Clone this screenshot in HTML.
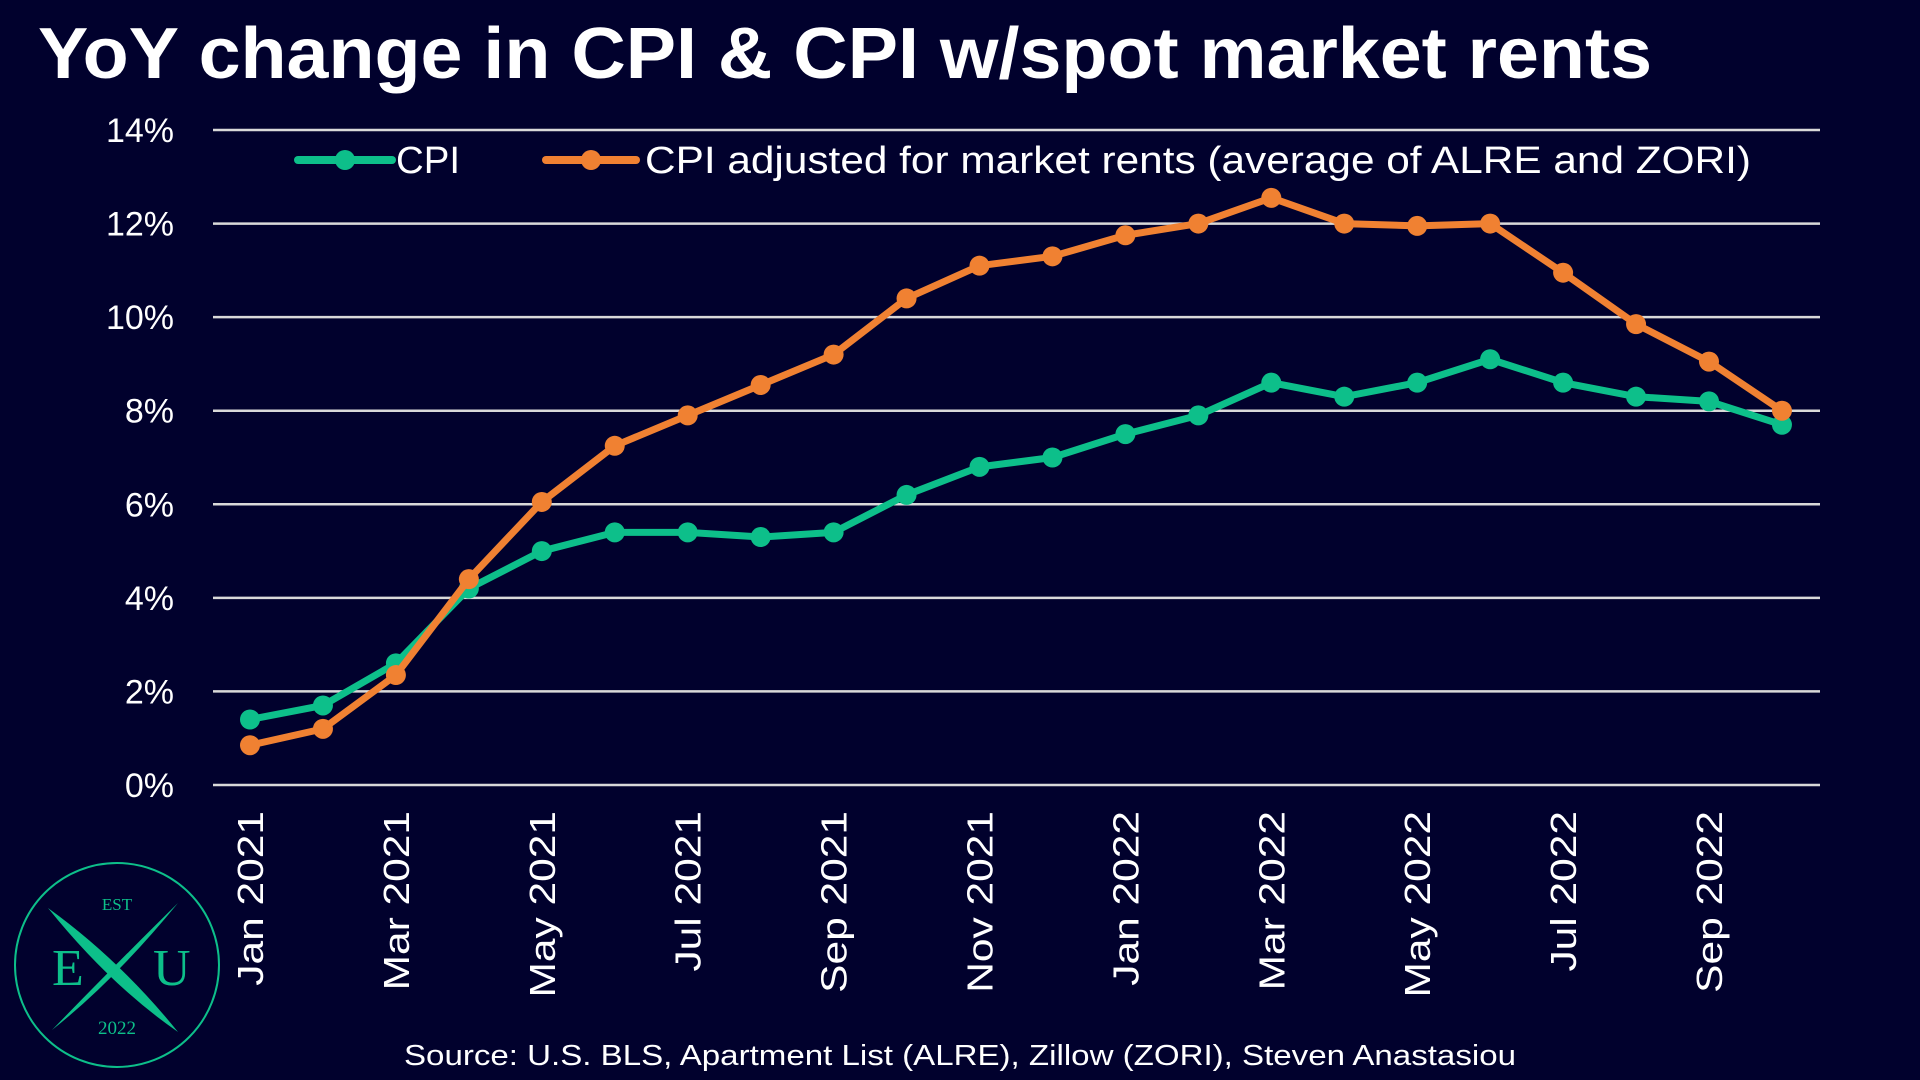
<!DOCTYPE html>
<html><head><meta charset="utf-8"><style>
html,body{margin:0;padding:0;background:#01012d;}
svg{display:block;}
text{font-family:"Liberation Sans","DejaVu Sans",sans-serif;fill:#fff;}
</style></head><body>
<svg id="s" width="1920" height="1080" viewBox="0 0 1920 1080" xmlns="http://www.w3.org/2000/svg">
<rect width="1920" height="1080" fill="#01012d"/>
<text x="38" y="78" font-size="72" font-weight="bold" textLength="1614" lengthAdjust="spacingAndGlyphs">YoY change in CPI &amp; CPI w/spot market rents</text>
<g id="grid"></g>
<g id="series"></g>
<g id="legend">
<line x1="298" y1="160" x2="392" y2="160" stroke="#0dbf8a" stroke-width="8" stroke-linecap="round"/>
<circle cx="345" cy="160" r="10" fill="#0dbf8a"/>
<text x="396" y="173" font-size="38" textLength="64" lengthAdjust="spacingAndGlyphs">CPI</text>
<line x1="546" y1="160" x2="636" y2="160" stroke="#f08132" stroke-width="8" stroke-linecap="round"/>
<circle cx="591" cy="160" r="10" fill="#f08132"/>
<text x="645" y="173" font-size="38" textLength="1106" lengthAdjust="spacingAndGlyphs">CPI adjusted for market rents (average of ALRE and ZORI)</text>
</g>
<text x="404" y="1065" font-size="29" textLength="1112" lengthAdjust="spacingAndGlyphs">Source: U.S. BLS, Apartment List (ALRE), Zillow (ZORI), Steven Anastasiou</text>
<g id="logo" fill="#0dbf8a">
<circle cx="117" cy="965" r="102" fill="none" stroke="#0dbf8a" stroke-width="2"/>
<text x="117" y="910" font-size="17" text-anchor="middle" style="fill:#0dbf8a;font-family:'Liberation Serif',serif">EST</text>
<text x="117" y="1034" font-size="19" text-anchor="middle" style="fill:#0dbf8a;font-family:'Liberation Serif',serif">2022</text>
<text x="52" y="985" font-size="52" style="fill:#0dbf8a;font-family:'Liberation Serif',serif">E</text>
<text x="153" y="985" font-size="52" style="fill:#0dbf8a;font-family:'Liberation Serif',serif">U</text>
<path d="M48 908 Q120 960 178 1032 Q110 985 48 908Z"/>
<path d="M178 903 Q120 960 52 1030 Q115 980 178 903Z"/>
</g>
</svg>
<script>
const NS="http://www.w3.org/2000/svg";
const y=v=>785-v*655/14, x=i=>250+i*72.95;
const g=document.getElementById('grid');
function el(t,a,p,txt){const e=document.createElementNS(NS,t);for(const k in a)e.setAttribute(k,a[k]);if(txt)e.textContent=txt;p.appendChild(e);return e;}
for(let v=0;v<=14;v+=2){el('line',{x1:213,x2:1820,y1:y(v),y2:y(v),stroke:'#d9d9d9','stroke-width':2.5},g);
el('text',{x:174,y:y(v)+12,'font-size':34,'text-anchor':'end'},g,v+'%');}
const labs=['Jan 2021','Mar 2021','May 2021','Jul 2021','Sep 2021','Nov 2021','Jan 2022','Mar 2022','May 2022','Jul 2022','Sep 2022'];
labs.forEach((l,k)=>{const xx=x(k*2)+13;el('text',{x:0,y:0,'font-size':36,'text-anchor':'end',transform:`translate(${xx},811) rotate(-90) scale(1.18,1)`},g,l);});
const cpi=[1.4,1.7,2.6,4.2,5.0,5.4,5.4,5.3,5.4,6.2,6.8,7.0,7.5,7.9,8.6,8.3,8.6,9.1,8.6,8.3,8.2,7.7];
const adj=[0.85,1.2,2.35,4.4,6.05,7.25,7.9,8.55,9.2,10.4,11.1,11.3,11.75,12.0,12.55,12.0,11.95,12.0,10.95,9.85,9.05,8.0];
const s=document.getElementById('series');
function draw(d,c){el('polyline',{points:d.map((v,i)=>x(i)+','+y(v)).join(' '),fill:'none',stroke:c,'stroke-width':7,'stroke-linejoin':'round'},s);
d.forEach((v,i)=>el('circle',{cx:x(i),cy:y(v),r:10,fill:c},s));}
draw(cpi,'#0dbf8a');draw(adj,'#f08132');
</script>
</body></html>
